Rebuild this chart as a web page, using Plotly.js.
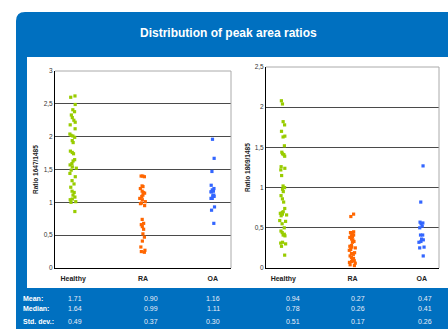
<!DOCTYPE html>
<html><head><meta charset="utf-8">
<script src="https://cdn.plot.ly/plotly-3.0.1.min.js"></script>
<style>html,body{margin:0;padding:0;background:#fff;}#chart{width:448px;height:329px;}</style>
</head><body><div id="chart"></div>
<script>
const categories = ['Healthy', 'RA', 'OA'];
// Ratio 1647/1485
const healthy1647 = [2.62,2.60,2.49,2.41,2.38,2.33,2.29,2.25,2.22,2.18,2.12,2.04,2.02,2.01,1.99,1.94,1.91,1.78,1.76,1.74,1.65,1.63,1.59,1.57,1.54,1.52,1.49,1.44,1.39,1.33,1.28,1.23,1.17,1.15,1.11,1.08,1.05,1.04,1.01,1.00,0.86];
const ra1647 = [1.40,1.40,1.39,1.25,1.24,1.21,1.17,1.15,1.14,1.11,1.09,1.06,1.04,1.01,0.99,0.98,0.95,0.74,0.68,0.66,0.63,0.59,0.52,0.47,0.41,0.32,0.27,0.25,0.24];
const oa1647 = [1.96,1.67,1.47,1.26,1.21,1.19,1.17,1.16,1.16,1.11,1.10,1.09,1.06,1.06,0.93,0.88,0.68];
// Ratio 1809/1485
const healthy1809 = [2.08,2.04,1.82,1.78,1.70,1.64,1.63,1.52,1.44,1.42,1.41,1.39,1.26,1.24,1.22,1.15,1.02,1.00,0.98,0.95,0.90,0.86,0.82,0.74,0.70,0.69,0.68,0.67,0.66,0.65,0.59,0.58,0.55,0.50,0.46,0.44,0.42,0.41,0.40,0.32,0.31,0.30,0.27,0.16];
const ra1809 = [0.67,0.64,0.45,0.44,0.44,0.43,0.41,0.40,0.39,0.38,0.36,0.35,0.33,0.32,0.28,0.27,0.26,0.25,0.23,0.22,0.19,0.18,0.17,0.15,0.13,0.12,0.10,0.09,0.08,0.07,0.06,0.04,0.03];
const oa1809 = [1.27,0.82,0.57,0.56,0.55,0.52,0.50,0.41,0.41,0.36,0.35,0.33,0.32,0.26,0.25,0.15];

const statLabels = ['Mean:', 'Median:', 'Std. dev.:'];
const stats1647 = [['1.71','0.90','1.16'],['1.64','0.99','1.11'],['0.49','0.37','0.30']];
const stats1809 = [['0.94','0.27','0.47'],['0.78','0.26','0.41'],['0.51','0.17','0.26']];

const colors = ['#99CC00', '#FF6600', '#3366FF'];
const W = 448, H = 329;
const px = x => x / W, py = y => 1 - y / H;
const FONT = 'Liberation Sans, Arial, sans-serif';

function pts(vals, cat, i, xa, ya) {
  return {
    type: 'box', y: vals, x: vals.map(() => cat), xaxis: xa, yaxis: ya,
    boxpoints: 'all', jitter: 0.22, pointpos: 0,
    fillcolor: 'rgba(0,0,0,0)', line: {color: 'rgba(0,0,0,0)', width: 0},
    marker: {color: colors[i], size: 3.2, symbol: 'square'},
    whiskerwidth: 0, hoverinfo: 'y', showlegend: false
  };
}
const left = [healthy1647, ra1647, oa1647];
const right = [healthy1809, ra1809, oa1809];
const data = [];
left.forEach((v, i) => data.push(pts(v, categories[i], i, 'x', 'y')));
right.forEach((v, i) => data.push(pts(v, categories[i], i, 'x2', 'y2')));

const tickFont = {family: FONT, size: 6.5, color: '#333'};
const xcommon = {
  type: 'category', categoryorder: 'array', categoryarray: categories,
  tickmode: 'array', tickvals: categories, ticktext: categories.map(c => '<b>' + c + '</b>'),
  tickfont: {family: FONT, size: 7, color: '#222'}, ticklabelstandoff: 4,
  showgrid: false, zeroline: false, showline: true, linecolor: '#000', linewidth: 1,
  ticks: '', fixedrange: true, mirror: false
};
const ycommon = {
  showgrid: true, gridcolor: '#4a4a4a', gridwidth: 1, zeroline: false,
  showline: true, linecolor: '#000', linewidth: 1, ticks: '', tickfont: tickFont,
  fixedrange: true
};

const shapes = [
  {type: 'path', xref: 'paper', yref: 'paper', layer: 'below',
   path: `M ${px(16)} ${py(329)} L ${px(16)} ${py(21)} Q ${px(16)} ${py(12)} ${px(25)} ${py(12)} L ${px(448)} ${py(12)} L ${px(448)} ${py(329)} Z`,
   fillcolor: '#0070C0', line: {width: 0}},
  {type: 'rect', xref: 'paper', yref: 'paper', layer: 'below',
   x0: px(27), x1: px(448), y0: py(288), y1: py(57), fillcolor: '#ffffff', line: {width: 0}},
  {type: 'line', xref: 'paper', yref: 'paper', x0: px(55), x1: px(231), y0: py(71), y1: py(71), line: {color: '#aaa', width: 1}},
  {type: 'line', xref: 'paper', yref: 'paper', x0: px(231), x1: px(231), y0: py(71), y1: py(268), line: {color: '#aaa', width: 1}},
  {type: 'line', xref: 'paper', yref: 'paper', x0: px(266), x1: px(439), y0: py(67), y1: py(67), line: {color: '#aaa', width: 1}},
  {type: 'line', xref: 'paper', yref: 'paper', x0: px(439), x1: px(439), y0: py(67), y1: py(268), line: {color: '#aaa', width: 1}}
];

const annotations = [
  {text: '<b>Distribution of peak area ratios</b>', xref: 'paper', yref: 'paper', x: px(228), y: py(33),
   xanchor: 'center', yanchor: 'middle', showarrow: false, font: {family: FONT, size: 12, color: '#fff'}},
  {text: '<b>Ratio 1647/1485</b>', textangle: -90, xref: 'paper', yref: 'paper', x: px(35), y: py(170),
   xanchor: 'center', yanchor: 'middle', showarrow: false, font: {family: FONT, size: 6.5, color: '#222'}},
  {text: '<b>Ratio 1809/1485</b>', textangle: -90, xref: 'paper', yref: 'paper', x: px(247), y: py(168),
   xanchor: 'center', yanchor: 'middle', showarrow: false, font: {family: FONT, size: 6.5, color: '#222'}}
];
const rowY = [298, 308, 321];
const colX = [75, 151, 213, 293, 358, 425];
statLabels.forEach((lab, r) => {
  annotations.push({text: '<b>' + lab + '</b>', xref: 'paper', yref: 'paper', x: px(21), y: py(rowY[r]),
    xanchor: 'left', yanchor: 'middle', showarrow: false, font: {family: FONT, size: 7, color: '#fff'}});
  const row = stats1647[r].concat(stats1809[r]);
  row.forEach((v, c) => annotations.push({text: v, xref: 'paper', yref: 'paper', x: px(colX[c]), y: py(rowY[r]),
    xanchor: 'center', yanchor: 'middle', showarrow: false, font: {family: FONT, size: 7, color: '#e8eef8'}}));
});

const layout = {
  width: W, height: H, margin: {l: 0, r: 0, t: 0, b: 0},
  paper_bgcolor: '#ffffff', plot_bgcolor: '#ffffff', separators: ',.',
  showlegend: false, boxmode: 'overlay',
  xaxis: Object.assign({}, xcommon, {domain: [px(55), px(231)], range: [-0.26, 2.26], anchor: 'y'}),
  yaxis: Object.assign({}, ycommon, {domain: [py(268), py(71)], range: [0, 3], dtick: 0.5, tick0: 0, anchor: 'x'}),
  xaxis2: Object.assign({}, xcommon, {domain: [px(266), px(439)], range: [-0.25, 2.25], anchor: 'y2'}),
  yaxis2: Object.assign({}, ycommon, {domain: [py(268), py(67)], range: [0, 2.5], dtick: 0.5, tick0: 0, anchor: 'x2'}),
  shapes: shapes, annotations: annotations
};
Plotly.newPlot('chart', data, layout, {displayModeBar: false, staticPlot: true});
</script></body></html>
